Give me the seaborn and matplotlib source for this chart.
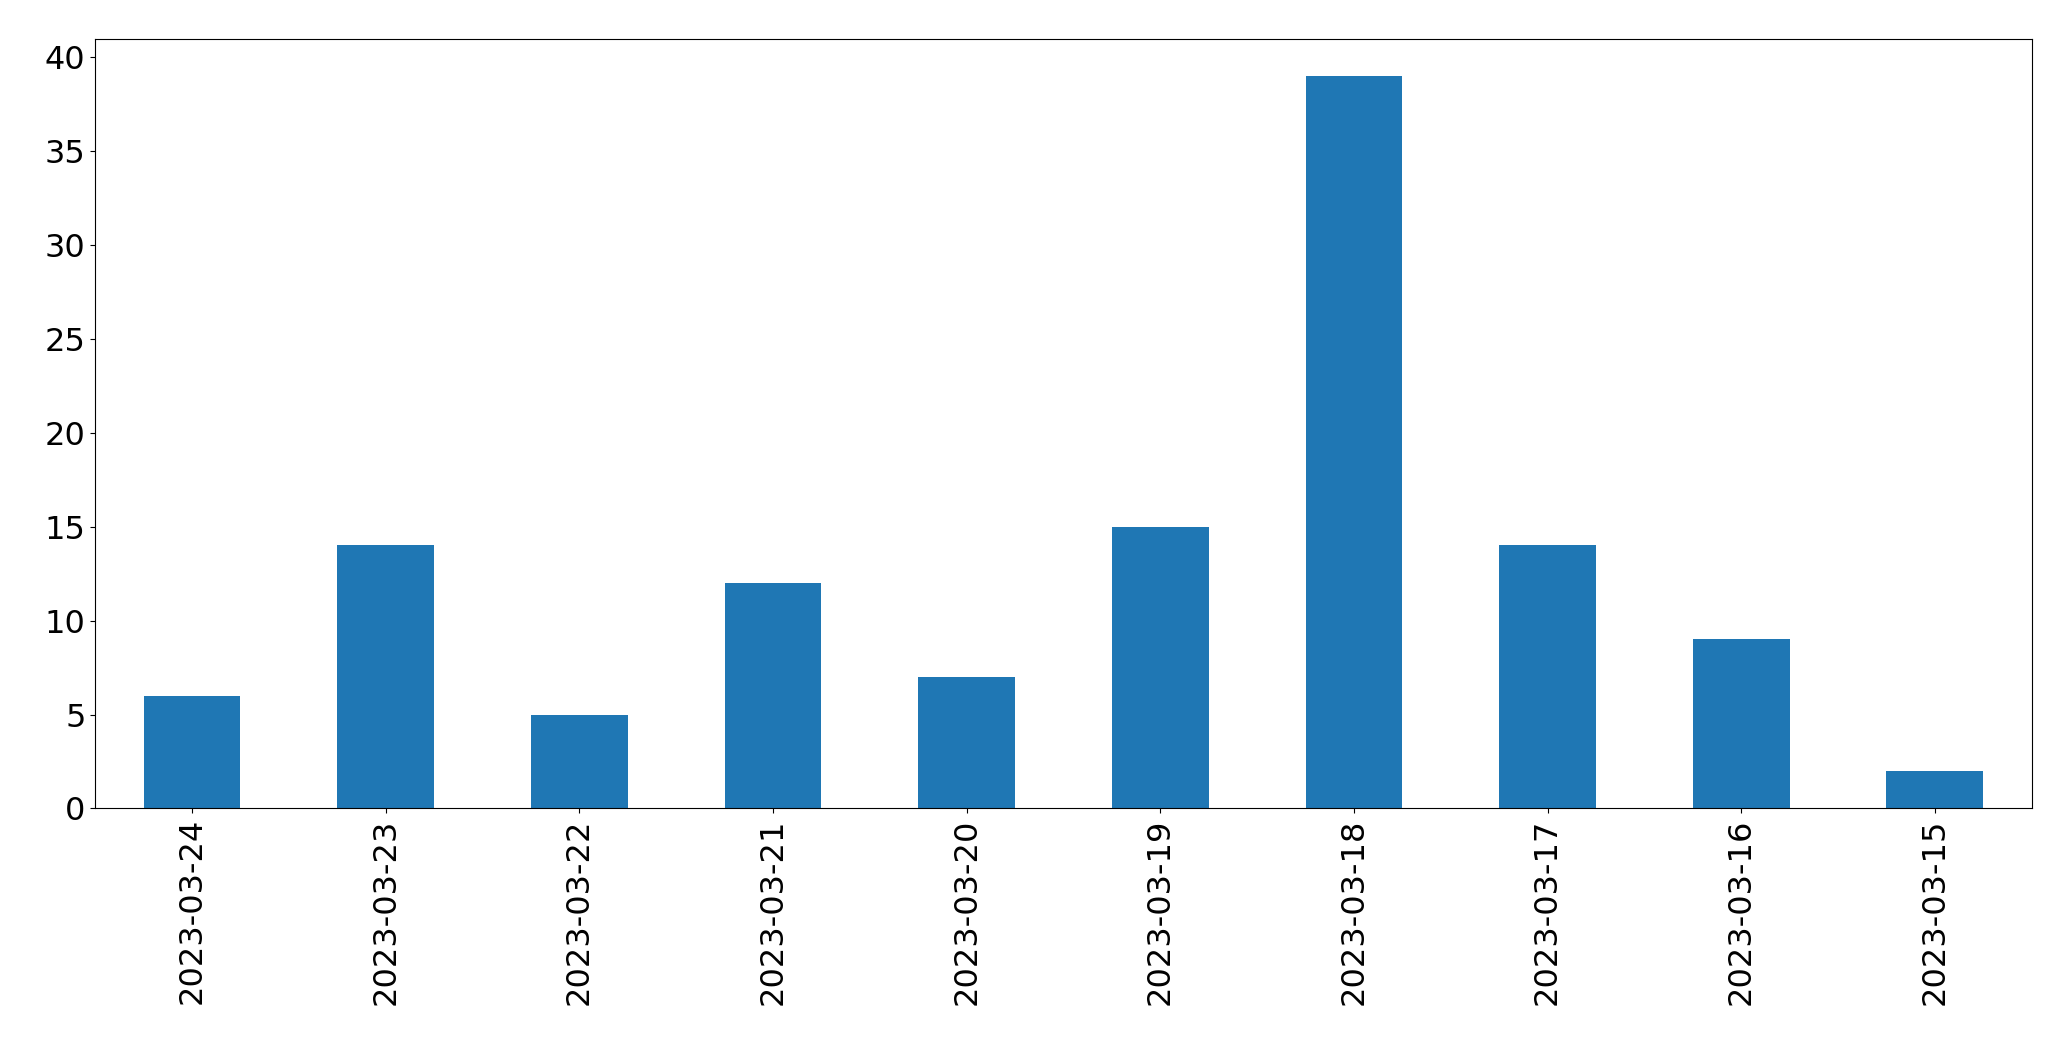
import matplotlib
matplotlib.use("Agg")
import matplotlib.pyplot as plt
import seaborn as sns
import pandas as pd

dates = ['2023-03-24', '2023-03-23', '2023-03-22', '2023-03-21', '2023-03-20',
         '2023-03-19', '2023-03-18', '2023-03-17', '2023-03-16', '2023-03-15']
counts = [6, 14, 5, 12, 7, 15, 39, 14, 9, 2]

df = pd.DataFrame({'date': dates, 'count': counts})

fig, ax = plt.subplots(figsize=(20.71, 10.61), dpi=100)
sns.barplot(data=df, x='date', y='count', color='#1f77b4', saturation=1,
            width=0.5, ax=ax)

ax.set_xlim(-0.5, len(dates) - 0.5)
ax.set_ylim(0, max(counts) * 1.05)
ax.set_xlabel('')
ax.set_ylabel('')
ax.tick_params(axis='both', labelsize=23)
ax.tick_params(axis='x', rotation=90)

fig.subplots_adjust(left=0.046, right=0.981, top=0.963, bottom=0.238)
fig.savefig('out.png', dpi=100)
